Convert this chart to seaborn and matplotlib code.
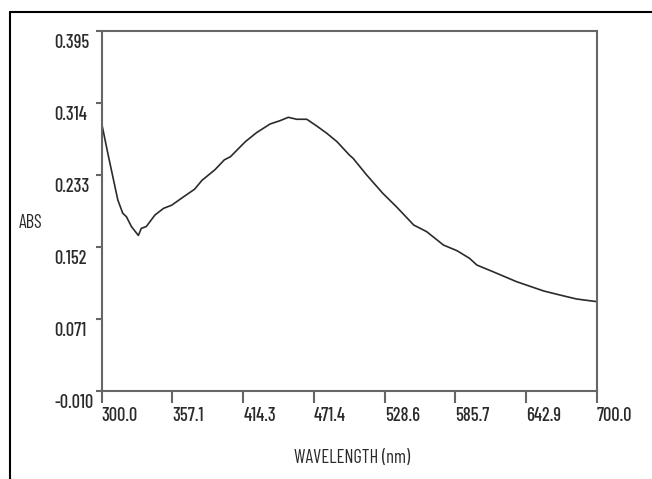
import matplotlib
matplotlib.use("Agg")
import matplotlib.pyplot as plt
import matplotlib.transforms as mtransforms
from matplotlib.lines import Line2D
import seaborn as sns
import pandas as pd

wavelength = [300, 305, 309, 313, 317, 320, 324, 329.6, 332, 336, 343, 350, 356.5,
              364.6, 375, 381, 391.5, 399, 404, 416, 425, 436, 444, 450.7, 457.5,
              465.6, 473.7, 481.8, 490, 500, 503, 514, 527, 538, 552, 562.5, 576,
              587, 597, 603, 616, 635, 657, 670, 683.5, 700]
absorbance = [0.291, 0.257, 0.231, 0.205, 0.190, 0.186, 0.175, 0.165, 0.173, 0.175,
              0.188, 0.1955, 0.199, 0.207, 0.217, 0.227, 0.239, 0.250, 0.2536,
              0.2705, 0.2806, 0.2904, 0.2941, 0.2979, 0.2957, 0.2957, 0.2881,
              0.2799, 0.2705, 0.2555, 0.2518, 0.233, 0.2124, 0.1973, 0.1767,
              0.1692, 0.1542, 0.1478, 0.1393, 0.1317, 0.1242, 0.113, 0.1025,
              0.098, 0.0935, 0.0905]

x_ticks = [300.0, 357.1, 414.3, 471.4, 528.6, 585.7, 642.9, 700.0]
x_tick_labels = ["300.0", "357.1", "414.3", "471.4", "528.6", "585.7", "642.9", "700.0"]
y_ticks = [-0.010, 0.071, 0.152, 0.233, 0.314, 0.395]
y_tick_labels = ["-0.010", "0.071", "0.152", "0.233", "0.314", "0.395"]

df = pd.DataFrame({"wl": wavelength, "abs": absorbance})

sns.set_style("white")
plt.rcParams["font.family"] = ["Barlow Condensed", "DejaVu Sans"]
plt.rcParams["font.weight"] = 500

FS = 13.3
TXT = "#2a2a2a"
W, H = 652, 479
fig = plt.figure(figsize=(W / 100, H / 100), dpi=100)
ax = fig.add_axes([101.7 / W, 1 - 391 / H, (597 - 101.7) / W, (391 - 31) / H])

sns.lineplot(data=df, x="wl", y="abs", ax=ax, color="#2b2b2b", linewidth=1.2)

ax.set_xlim(300, 700)
ax.set_ylim(-0.010, 0.395)
ax.set_xticks(x_ticks)
ax.set_xticklabels(x_tick_labels)
ax.set_yticks(y_ticks)
ax.set_yticklabels(y_tick_labels)

spine_col = "#666666"
for s in ax.spines.values():
    s.set_visible(True)
    s.set_color(spine_col)
    s.set_linewidth(1.5)

ax.tick_params(axis="x", direction="out", length=8.6, width=1.5, color=spine_col,
               pad=3, labelsize=FS, labelcolor=TXT, bottom=True)
ax.tick_params(axis="y", direction="out", length=4.3, width=1.5, color=spine_col,
               pad=30, labelsize=FS, labelcolor=TXT, left=True)

for lbl in ax.get_xticklabels():
    lbl.set_horizontalalignment("left")
off = mtransforms.ScaledTranslation(0, -2 / 72, fig.dpi_scale_trans)
for lbl in ax.get_yticklabels():
    lbl.set_horizontalalignment("left")
    lbl.set_verticalalignment("top")
    lbl.set_transform(lbl.get_transform() + off)

ax.set_xlabel("WAVELENGTH (nm)", fontsize=FS, color=TXT)
ax.xaxis.set_label_coords(0.505, -0.186)
ax.xaxis.label.set_verticalalignment("center")
ax.set_ylabel("ABS", fontsize=FS, color=TXT, rotation=0)
ax.yaxis.set_label_coords(-0.167, 0.467)
ax.yaxis.label.set_horizontalalignment("left")
ax.yaxis.label.set_verticalalignment("center")

# outer screenshot frame
fig.add_artist(Line2D([10 / W, 10 / W], [0, 1 - 12 / H], transform=fig.transFigure,
                      color="black", linewidth=1.5))
fig.add_artist(Line2D([10 / W, 1], [1 - 12 / H, 1 - 12 / H], transform=fig.transFigure,
                      color="black", linewidth=1.5))

fig.savefig("out.png", dpi=100)
